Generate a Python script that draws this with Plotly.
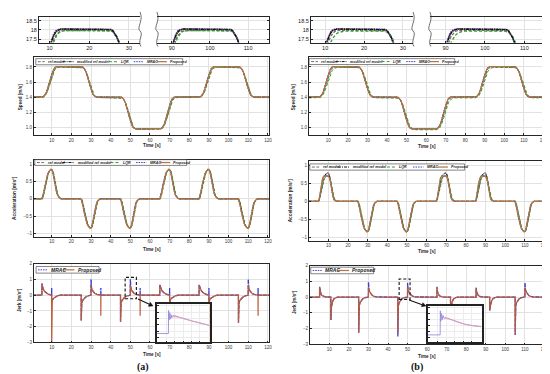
import math
import plotly.graph_objects as go

W, H = 550, 374

# ----------------------------------------------------------------- data
SERIES = ["ref model", "modified ref model", "LQR", "MRAC", "Proposed"]

EVENT_TIMES = [5, 25, 45, 65, 85, 105]
EVENT_DIR = [1, -1, -1, 1, 1, -1]
SPEED_LEVELS = [14, 18, 14, 9.8, 14, 18, 14]

TAU = [0, 0.5, 1, 1.5, 2, 2.5, 3, 3.5, 4, 4.5, 5, 5.5, 6, 6.5, 7, 7.5, 8, 8.5, 9, 9.5, 10]

SPEED_FRAC_A = {
    "ref model":          [0, .005, .021, .052, .098, .162, .245, .345, .455, .57, .68, .78, .865, .925, .963, .985, .995, 1, 1, 1, 1],
    "modified ref model": [0, .006, .025, .06, .11, .18, .27, .38, .50, .62, .73, .83, .905, .955, .983, .995, 1, 1, 1, 1, 1],
    "LQR":                [0, .004, .017, .043, .085, .145, .225, .32, .43, .54, .65, .75, .84, .905, .95, .975, .99, .996, 1, 1, 1],
    "MRAC":               [0, .007, .028, .066, .12, .195, .29, .40, .52, .64, .75, .85, .925, .97, .99, 1, 1, 1, 1, 1, 1],
    "Proposed":           [0, .006, .025, .06, .11, .18, .27, .38, .50, .62, .73, .83, .905, .955, .983, .995, 1, 1, 1, 1, 1],
}
SPEED_FRAC_B = {
    "ref model":          [0, .005, .021, .052, .098, .162, .245, .345, .455, .57, .68, .78, .865, .925, .963, .985, .995, 1, 1, 1, 1],
    "modified ref model": [0, .006, .025, .06, .11, .18, .27, .38, .50, .62, .73, .83, .905, .955, .983, .995, 1, 1, 1, 1, 1],
    "LQR":                [0, .003, .012, .033, .068, .12, .19, .28, .38, .49, .60, .70, .79, .86, .91, .945, .97, .985, .993, .998, 1],
    "MRAC":               [0, .007, .028, .066, .12, .195, .29, .40, .52, .64, .75, .85, .925, .97, .99, 1, 1, 1, 1, 1, 1],
    "Proposed":           [0, .006, .025, .06, .11, .18, .27, .38, .50, .62, .73, .83, .905, .955, .983, .995, 1, 1, 1, 1, 1],
}
SPEED_OFFSET_A = {"ref model": -0.03, "modified ref model": 0.04, "LQR": -0.03, "MRAC": 0.06, "Proposed": 0.045}
SPEED_OFFSET_B = {"ref model": -0.02, "modified ref model": 0.04, "LQR": -0.07, "MRAC": 0.06, "Proposed": 0.045}

ACC_UP_A = [0, .08, .22, .38, .52, .63, .72, .78, .82, .85, .84, .78, .65, .48, .32, .19, .10, .05, .02, .005, 0]
ACC_DOWN_A = [0, -.08, -.22, -.38, -.52, -.63, -.72, -.78, -.82, -.85, -.84, -.78, -.65, -.48, -.32, -.19, -.10, -.05, -.02, -.005, 0]
ACC_LAG = {"ref model": 0.25, "modified ref model": 0.1, "LQR": 0.3, "MRAC": -0.1, "Proposed": 0.0}
ACC_UP_B = {
    "ref model":          [0, .06, .18, .33, .47, .59, .68, .74, .78, .80, .79, .74, .62, .44, .27, .14, .06, .025, .01, .003, 0],
    "modified ref model": [0, .09, .26, .44, .58, .67, .72, .75, .77, .78, .76, .71, .58, .40, .22, .10, .04, .015, .005, .001, 0],
    "LQR":                [0, .07, .22, .38, .50, .59, .65, .68, .70, .70, .69, .67, .60, .47, .31, .18, .09, .04, .015, .005, 0],
    "MRAC":               [0, .13, .35, .53, .64, .70, .71, .67, .72, .68, .71, .65, .54, .37, .19, .08, .03, .01, .004, .001, 0],
    "Proposed":           [0, .12, .33, .52, .63, .68, .70, .69, .70, .71, .69, .66, .55, .38, .20, .09, .03, .01, .004, .001, 0],
}

# jerk, column (a)
JERK_A_UP_TAU = [0, 0.02, 0.3, 0.7, 1.2, 2.0, 3.0, 4.0, 4.97, 5.0, 5.03, 5.3, 6.0, 7.0, 8.0, 9.5]
JERK_A_UP_PROP = [0, 0.70, 0.50, 0.37, 0.26, 0.15, 0.07, 0.03, 0.01, -3.4, -0.35, -0.30, -0.20, -0.10, -0.04, 0]
JERK_A_UP_MRAC = [0, 0.75, 0.50, 0.37, 0.26, 0.15, 0.07, 0.03, 0.01, 0.45, -0.45, -0.32, -0.20, -0.10, -0.04, 0]
JERK_A_UP_PEAK = [0.70, 0.62, 0.62]
JERK_A_DOWN_TAU = [0, 0.02, 0.1, 0.3, 0.7, 1.2, 2.0, 3.0, 4.0, 4.97, 5.0, 5.03, 5.3, 5.7, 6.2, 7.0, 8.0, 9.0, 9.97, 10.0, 10.03, 10.5]
JERK_A_DOWN_PROP = [0, -1.6, -0.8, -0.5, -0.35, -0.25, -0.15, -0.07, -0.03, 0, 0.62, 0.55, 0.42, 0.30, 0.20, 0.10, 0.05, 0.02, 0, -1.3, 0, 0]
JERK_A_DOWN_MRAC = [0, -1.6, -0.8, -0.5, -0.35, -0.25, -0.15, -0.07, -0.03, 0, 1.0, 0.55, 0.42, 0.30, 0.20, 0.10, 0.05, 0.02, 0, 0.45, 0, 0]
JERK_A_DOWN_DROP = [-1.6, -1.7, -1.75]

# jerk, column (b)
JERK_B_UP_HEAD_TAU = [0, 0.02, 0.3, 0.7, 1.2, 2.0, 3.0]
JERK_B_UP_HEAD = [0, 0.60, 0.35, 0.20, 0.10, 0.04, 0.01]
JERK_B_UP_PEAK = [0.60, 0.60, 0.55]
JERK_B_UP_DIP_TAU = [-0.05, 0, 0.3, 0.8, 1.5, 2.5, 3.5]
JERK_B_UP_DIP = [0, -1.45, -0.6, -0.3, -0.12, -0.04, 0]
JERK_B_UP_DIP_AT = [5.8, 7.0, 7.0]
JERK_B_UP_DIP_DEPTH = [-1.45, -1.0, -0.85]
JERK_B_DOWN_TAU = [0, 0.02, 0.1, 0.3, 0.7, 1.2, 2.0, 3.0, 4.97, 5.0, 5.03, 5.3, 5.7, 6.2, 7.0, 8.0, 9.0]
JERK_B_DOWN_PROP = [0, -2.25, -0.9, -0.55, -0.35, -0.22, -0.12, -0.04, 0, 0.62, 0.58, 0.45, 0.32, 0.20, 0.10, 0.04, 0.01]
JERK_B_DOWN_MRAC = [0, -2.25, -0.9, -0.55, -0.35, -0.22, -0.12, -0.04, 0, 0.95, 0.58, 0.45, 0.32, 0.20, 0.10, 0.04, 0.01]
JERK_B_DOWN_DROP_PROP = [-2.25, -2.3, -2.35]
JERK_B_DOWN_DROP_MRAC = [-2.25, -2.5, -2.4]
JERK_B_DOWN_TOP_MRAC = [0.95, 0.9, 0.92]

# insets (zoom of the jerk near t = 50 s)
INSET_A_T = [49.4, 50.1, 50.11, 50.14, 50.18, 50.22, 50.26, 50.3, 50.35, 50.45, 50.7, 51.1, 51.6, 52.1, 52.6]
INSET_A_MRAC = [0.13, 0.13, 0.85, 0.55, 0.78, 0.58, 0.72, 0.62, 0.68, 0.69, 0.65, 0.58, 0.51, 0.45, 0.38]
INSET_A_PT = [50.3, 50.7, 51.1, 51.6, 52.1, 52.6]
INSET_A_PROP = [0.66, 0.64, 0.58, 0.51, 0.45, 0.38]
INSET_B_T = [49.4, 50.13, 50.14, 50.17, 50.21, 50.25, 50.3, 50.36, 50.45, 50.7, 51.1, 51.6, 52.1, 52.6]
INSET_B_MRAC = [0.10, 0.10, 0.89, 0.55, 0.80, 0.60, 0.74, 0.64, 0.67, 0.62, 0.53, 0.45, 0.40, 0.37]
INSET_B_PT = [50.36, 50.7, 51.1, 51.6, 52.1, 52.6]
INSET_B_PROP = [0.65, 0.62, 0.53, 0.45, 0.40, 0.37]

SPEED_TICKS = [10, 12, 14, 16, 18]
SPEED_TICK_TEXT = ["1.0", "1.2", "1.4", "1.6", "1.8"]
ZOOM_TICKS_Y = [17.5, 18, 18.5]
ACC_TICKS = [-1, -0.5, 0, 0.5, 1]
JERK_TICKS = [-3, -2, -1, 0, 1, 2]
TIME_TICKS = [10, 20, 30, 40, 50, 60, 70, 80, 90, 100, 110, 120]

# ----------------------------------------------------------------- styles
FONT = "Liberation Sans"
AXCOL = "#262626"
GRID = "#e2e2e2"
STYLE = {
    "ref model":          dict(color="#707070", width=1.0, dash="3px,1.5px"),
    "modified ref model": dict(color="#111111", width=1.0, dash="3px,1px,1px,1px"),
    "LQR":                dict(color="#2ca02c", width=1.0, dash="3px,2px"),
    "MRAC":               dict(color="#3b3bd6", width=1.0, dash="1.5px,1px"),
    "Proposed":           dict(color="#b8743e", width=1.25, dash="solid"),
}
ZOOM_ORDER = ["Proposed", "ref model", "LQR", "MRAC", "modified ref model"]


def px_x(p):
    return p / W


def px_y(p):
    return 1 - p / H


layout = dict(width=W, height=H, autosize=False, margin=dict(l=0, r=0, t=0, b=0),
              paper_bgcolor="white", plot_bgcolor="white", showlegend=False)
shapes, annos = [], []
fig = go.Figure()


def axis_common(fs=4.5, col="#3a3a3a"):
    return dict(showline=True, linecolor=AXCOL, linewidth=0.7, mirror=True, ticks="inside",
                ticklen=2, tickwidth=0.5, tickcolor=AXCOL, showgrid=True, gridcolor=GRID,
                gridwidth=0.5, zeroline=False, fixedrange=True,
                tickfont=dict(family=FONT, size=fs, color=col))


def set_axes(n, box, xr, yr, xkw=None, ykw=None):
    l, r, t, b = box
    key = "" if n == 1 else str(n)
    xa = axis_common()
    xa.update(domain=[px_x(l), px_x(r)], range=xr, anchor="y" + key)
    ya = axis_common()
    ya.update(domain=[px_y(b), px_y(t)], range=yr, anchor="x" + key)
    if xkw:
        xa.update(xkw)
    if ykw:
        ya.update(ykw)
    layout["xaxis" + key] = xa
    layout["yaxis" + key] = ya
    return "x" + key, "y" + key


def build_speed(frac, off):
    t = [0.0]
    v = [SPEED_LEVELS[0] + off]
    cur = v[0]
    for i, te in enumerate(EVENT_TIMES):
        tgt = SPEED_LEVELS[i + 1] + off
        for tau, f in zip(TAU, frac):
            t.append(te + tau)
            v.append(cur + (tgt - cur) * f)
        cur = tgt
    t.append(121)
    v.append(cur)
    return t, v


def build_profile(pieces):
    t, v = [0.0], [0.0]
    for t0, taus, vals in pieces:
        for tau, val in zip(taus, vals):
            t.append(t0 + tau)
            v.append(val)
    t.append(121)
    v.append(0.0)
    return t, v


def add_line(x, y, xa, ya, name, wscale=1.0, color=None, width=None, dash=None):
    st = STYLE[name]
    fig.add_trace(go.Scatter(x=x, y=y, xaxis=xa, yaxis=ya, mode="lines", name=name,
                             line=dict(color=color or st["color"], width=width or st["width"] * wscale,
                                       dash=dash or st["dash"]),
                             hoverinfo="skip"))


def add_legend(box, entries, fs):
    x0, x1, y0, y1 = box
    shapes.append(dict(type="rect", xref="paper", yref="paper", x0=px_x(x0), x1=px_x(x1),
                       y0=px_y(y1), y1=px_y(y0), line=dict(color="#333333", width=0.6),
                       fillcolor="white", layer="above"))
    ym = (y0 + y1) / 2
    for name, sx0, sx1, tx in entries:
        st = STYLE[name]
        shapes.append(dict(type="line", xref="paper", yref="paper", x0=px_x(sx0), x1=px_x(sx1),
                           y0=px_y(ym), y1=px_y(ym), layer="above",
                           line=dict(color=st["color"], width=min(st["width"], 1.3), dash=st["dash"])))
        annos.append(dict(x=px_x(tx), y=px_y(ym), xref="paper", yref="paper",
                          text="<b><i>%s</i></b>" % name, showarrow=False, xanchor="left",
                          yanchor="middle", font=dict(family=FONT, size=fs, color="#222222")))


def text(px, py, s, fs, angle=0, bold=True, family=FONT, col="#262626"):
    annos.append(dict(x=px_x(px), y=px_y(py), xref="paper", yref="paper",
                      text=("<b>%s</b>" % s) if bold else s, showarrow=False, textangle=angle,
                      xanchor="center", yanchor="middle", font=dict(family=family, size=fs, color=col)))


def wavy(x, top, bot):
    h = bot - top
    pts = [(x, top), (x + 4, top + h * 0.25), (x - 4, top + h * 0.45), (x, top + h * 0.55),
           (x + 4, top + h * 0.65), (x - 3, top + h * 0.85), (x + 1, bot)]
    p = "M %f,%f C %f,%f %f,%f %f,%f C %f,%f %f,%f %f,%f" % tuple(
        v for (a, b) in pts for v in (px_x(a), px_y(b)))
    shapes.append(dict(type="path", xref="paper", yref="paper", path=p,
                       line=dict(color="#333333", width=0.7)))


def arrow(tail, head):
    (x0, y0), (x1, y1) = tail, head
    ang = math.atan2(y1 - y0, x1 - x0)
    L, Wd = 4.0, 2.2
    bx, by = x1 - L * math.cos(ang), y1 - L * math.sin(ang)
    nx, ny = -math.sin(ang), math.cos(ang)
    shapes.append(dict(type="line", xref="paper", yref="paper", x0=px_x(x0), y0=px_y(y0),
                       x1=px_x(bx), y1=px_y(by), line=dict(color="#111111", width=1.1)))
    p = "M %f,%f L %f,%f L %f,%f Z" % (px_x(x1), px_y(y1), px_x(bx + nx * Wd), px_y(by + ny * Wd),
                                      px_x(bx - nx * Wd), px_y(by - ny * Wd))
    shapes.append(dict(type="path", xref="paper", yref="paper", path=p, fillcolor="#111111",
                       line=dict(color="#111111", width=0.5)))


LEG_REL = [(2, 9, 10.5), (27, 38, 39.7), (73.7, 82, 83.7), (98.7, 108.7, 110), (122, 132, 133)]

COLS = {
    "a": dict(base=0, zl=(31, 133, 7, 33), zr=(150, 263, 7, 33), spd=(26, 263, 48, 127),
              acc=(26, 263, 152, 230), jrk=(26, 263, 257, 337), ins=(150, 203, 298, 337),
              xr=[0.9, 120.6], zlr=[7.3, 32.8], zrr=[86.1, 115.5],
              spd_leg=(28, 176, 49.3, 55.5), acc_leg=(27, 180, 151.7, 157.5), jrk_leg=(28.3, 91.7, 260, 266.7),
              ytit=(12, 6.5, 11), tcx=145, time_y=(137, 243, 349), label="(a)", label_xy=(136, 362),
              dbox=(118, 129.3, 271, 292.7), arrow=((131, 293), (146, 300)),
              frac=SPEED_FRAC_A, off=SPEED_OFFSET_A, ins_data=(INSET_A_T, INSET_A_MRAC, INSET_A_PT, INSET_A_PROP)),
    "b": dict(base=6, zl=(305, 408, 7, 33), zr=(425, 540, 7, 33), spd=(303, 540, 48, 127),
              acc=(303, 541, 153, 234), jrk=(304, 541, 259, 339), ins=(423, 477, 300, 337),
              xr=[0, 120.3], zlr=[6.3, 32.6], zrr=[86.05, 115.0],
              spd_leg=(303.3, 450, 49.3, 55.3), acc_leg=(304, 460, 156, 162.3), jrk_leg=(305, 368.3, 260.7, 267.3),
              ytit=(287, 284.5, 288), tcx=422, time_y=(138, 245, 351), label="(b)", label_xy=(412, 362),
              dbox=(394, 405, 272.7, 293.3), arrow=((404, 294), (421, 300)),
              frac=SPEED_FRAC_B, off=SPEED_OFFSET_B, ins_data=(INSET_B_T, INSET_B_MRAC, INSET_B_PT, INSET_B_PROP)),
}

ZOOM_FONT = dict(family=FONT, size=5.5, color="#1a1a1a")

for col, C in COLS.items():
    b = C["base"]
    # ---- top zoom panels
    xzl, yzl = set_axes(b + 1, C["zl"], C["zlr"], [17.32, 18.7],
                        xkw=dict(tickvals=[10, 20, 30], tickfont=ZOOM_FONT, ticks="inside"),
                        ykw=dict(tickvals=ZOOM_TICKS_Y, ticktext=["17.5", "18", "18.5"],
                                 tickfont=ZOOM_FONT, mirror=False))
    xzr, yzr = set_axes(b + 2, C["zr"], C["zrr"], [17.32, 18.7],
                        xkw=dict(tickvals=[90, 100, 110], tickfont=ZOOM_FONT),
                        ykw=dict(tickvals=ZOOM_TICKS_Y, showticklabels=False, side="right", mirror=False))
    wavy(C["zl"][1], 2, 37)
    wavy(C["zr"][0], 2, 37)
    # ---- main panels
    xs, ys = set_axes(b + 3, C["spd"], C["xr"], [9.0, 19.26],
                      xkw=dict(tickvals=TIME_TICKS), ykw=dict(tickvals=SPEED_TICKS, ticktext=SPEED_TICK_TEXT))
    xa, ya = set_axes(b + 4, C["acc"], C["xr"], [-1.1, 1.12],
                      xkw=dict(tickvals=TIME_TICKS), ykw=dict(tickvals=ACC_TICKS))
    xj, yj = set_axes(b + 5, C["jrk"], C["xr"], [-3, 2],
                      xkw=dict(tickvals=TIME_TICKS), ykw=dict(tickvals=JERK_TICKS))

    for s in ZOOM_ORDER:
        t, v = build_speed(C["frac"][s], C["off"][s])
        add_line(t, v, xzl, yzl, s, wscale=1.3)
        add_line(t, v, xzr, yzr, s, wscale=1.3)

    for s in SERIES:
        t, v = build_speed(C["frac"][s], C["off"][s])
        add_line(t, v, xs, ys, s)
        lag = ACC_LAG[s]
        pieces = []
        for te, d in zip(EVENT_TIMES, EVENT_DIR):
            if d > 0:
                prof = ACC_UP_A if col == "a" else ACC_UP_B[s]
                pieces.append((te + (lag if col == "a" else 0), TAU, prof))
            else:
                pieces.append((te + lag, TAU, ACC_DOWN_A))
        t, v = build_profile(pieces)
        add_line(t, v, xa, ya, s)

    # ---- jerk
    for s in ["MRAC", "Proposed"]:
        pieces = []
        ui = di = 0
        for te, d in zip(EVENT_TIMES, EVENT_DIR):
            if col == "a":
                if d > 0:
                    vals = list(JERK_A_UP_PROP if s == "Proposed" else JERK_A_UP_MRAC)
                    vals[1] = JERK_A_UP_PEAK[ui] + (0.05 if s == "MRAC" else 0)
                    pieces.append((te, JERK_A_UP_TAU, vals))
                    ui += 1
                else:
                    vals = list(JERK_A_DOWN_PROP if s == "Proposed" else JERK_A_DOWN_MRAC)
                    vals[1] = JERK_A_DOWN_DROP[di]
                    pieces.append((te, JERK_A_DOWN_TAU, vals))
                    di += 1
            else:
                if d > 0:
                    head = list(JERK_B_UP_HEAD)
                    head[1] = JERK_B_UP_PEAK[ui] + (0.05 if s == "MRAC" else 0)
                    dip = list(JERK_B_UP_DIP)
                    dip[1] = JERK_B_UP_DIP_DEPTH[ui]
                    taus = JERK_B_UP_HEAD_TAU + [JERK_B_UP_DIP_AT[ui] + x for x in JERK_B_UP_DIP_TAU]
                    pieces.append((te, taus, head + dip))
                    ui += 1
                else:
                    if s == "Proposed":
                        vals = list(JERK_B_DOWN_PROP)
                        vals[1] = JERK_B_DOWN_DROP_PROP[di]
                    else:
                        vals = list(JERK_B_DOWN_MRAC)
                        vals[1] = JERK_B_DOWN_DROP_MRAC[di]
                        vals[9] = JERK_B_DOWN_TOP_MRAC[di]
                    pieces.append((te, JERK_B_DOWN_TAU, vals))
                    di += 1
        t, v = build_profile(pieces)
        if s == "MRAC":
            add_line(t, v, xj, yj, s, color="#3b3bd6", width=1.3, dash="4px,1px")
        else:
            add_line(t, v, xj, yj, s, color="#b85a36", width=1.2)

    # ---- inset
    xi, yi = set_axes(b + 6, C["ins"], [49.4, 52.6], [-0.15, 1.05],
                      xkw=dict(tickvals=[50, 50.5, 51, 51.5, 52], showticklabels=False, linewidth=1.5,
                               linecolor="#222222", gridcolor="#ececec"),
                      ykw=dict(tickvals=[0, 0.2, 0.4, 0.6, 0.8, 1.0], showticklabels=False, linewidth=1.5,
                               linecolor="#222222", gridcolor="#ececec"))
    shapes.append(dict(type="rect", xref=xi, yref=yi, x0=49.4, x1=52.6, y0=-0.15, y1=1.05,
                       fillcolor="white", line=dict(width=0), layer="below"))
    it, im, ipt, ip = C["ins_data"]
    add_line(it, im, xi, yi, "MRAC", color="#968ddb", width=0.9, dash="solid")
    add_line(ipt, ip, xi, yi, "Proposed", color="#e7a0b8", width=0.9)

    # ---- legends
    l0, l1, lt, lb = C["spd_leg"]
    sc = (l1 - l0) / 148.0
    add_legend(C["spd_leg"], [(n, l0 + a * sc, l0 + bb * sc, l0 + c * sc)
                              for n, (a, bb, c) in zip(SERIES, LEG_REL)], 3.6)
    l0, l1, lt, lb = C["acc_leg"]
    sc = (l1 - l0) / 148.0
    add_legend(C["acc_leg"], [(n, l0 + a * sc, l0 + bb * sc, l0 + c * sc)
                              for n, (a, bb, c) in zip(SERIES, LEG_REL)], 3.7)
    l0, l1, lt, lb = C["jrk_leg"]
    add_legend(C["jrk_leg"], [("MRAC", l0 + 2, l0 + 11, l0 + 12.5),
                              ("Proposed", l0 + 27, l0 + 38.5, l0 + 40)], 5.0)

    # ---- titles
    yt = C["ytit"]
    text(yt[0], 87.5, "Speed [m/s]", 4.6, angle=-90)
    text(yt[1], (C["acc"][2] + C["acc"][3]) / 2 - 1, "Acceleration [m/s²]", 4.8, angle=-90)
    text(yt[2], (C["jrk"][2] + C["jrk"][3]) / 2 - 3, "Jerk [m/s³]", 4.6, angle=-90)
    for ty in C["time_y"]:
        text(C["tcx"], ty, "Time [s]", 4.6)
    text(C["label_xy"][0], C["label_xy"][1], C["label"], 10, family="Liberation Serif", col="#111111")

    # ---- dashed box and arrow
    x0, x1, y0, y1 = C["dbox"]
    shapes.append(dict(type="rect", xref="paper", yref="paper", x0=px_x(x0), x1=px_x(x1),
                       y0=px_y(y1), y1=px_y(y0), line=dict(color="#111111", width=1.1, dash="3px,2px"),
                       layer="above"))
    arrow(*C["arrow"])

layout["shapes"] = shapes
layout["annotations"] = annos
fig.update_layout(**layout)
fig.write_html("out.html")
